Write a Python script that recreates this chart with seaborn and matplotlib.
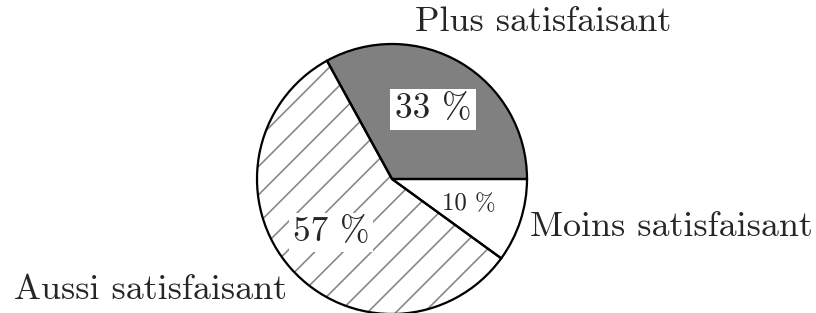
import seaborn as sns
import matplotlib as mpl
import matplotlib.pyplot as plt

labels = ["Plus satisfaisant", "Aussi satisfaisant", "Moins satisfaisant"]
values = [33, 57, 10]
colors = ["#808080", "white", "white"]
hatches = ["", "/", ""]

DPI = 85  # hatch spacing follows dpi, so pick it to match the reference

sns.set_theme(style="white")
plt.rcParams['font.family'] = ['cmr10', 'DejaVu Serif']
plt.rcParams['axes.formatter.use_mathtext'] = True
plt.rcParams['hatch.linewidth'] = 1.4

fig = plt.figure(figsize=(816 / DPI, 313 / DPI), dpi=DPI)
ax = fig.add_axes([257 / 816, -1 / 313, 270 / 816, 270 / 313])

wedges, texts, pcts = ax.pie(values, colors=colors, startangle=0, counterclock=True,
                             autopct=lambda p: f"{p:.0f} %", pctdistance=0.6,
                             wedgeprops=dict(linewidth=0))
for w, h in zip(wedges, hatches):
    if h:
        w.set_hatch(h)
        w.set_edgecolor("#888888")
        w.set_linewidth(0)

# outline
ax.pie(values, startangle=0, counterclock=True,
       wedgeprops=dict(fill=False, edgecolor="black", linewidth=1.9))

sizes = [30, 30, 21]
boxes = [dict(facecolor="white", edgecolor="none", pad=4),
         dict(facecolor="white", edgecolor="none", pad=3),
         None]
for t, s, b in zip(pcts, sizes, boxes):
    t.set_fontsize(s)
    if b:
        t.set_bbox(b)

ax.text(0.17, 1.16, labels[0], fontsize=30.5, ha="left", va="center", clip_on=False)
ax.text(-0.78, -0.82, labels[1], fontsize=30.5, ha="right", va="center", clip_on=False)
ax.text(1.02, -0.36, labels[2], fontsize=30.5, ha="left", va="center", clip_on=False)

ax.set_xlim(-1, 1)
ax.set_ylim(-1, 1)
ax.set_aspect("equal")
ax.axis("off")

plt.savefig("out.png", dpi=DPI)
plt.close("all")
